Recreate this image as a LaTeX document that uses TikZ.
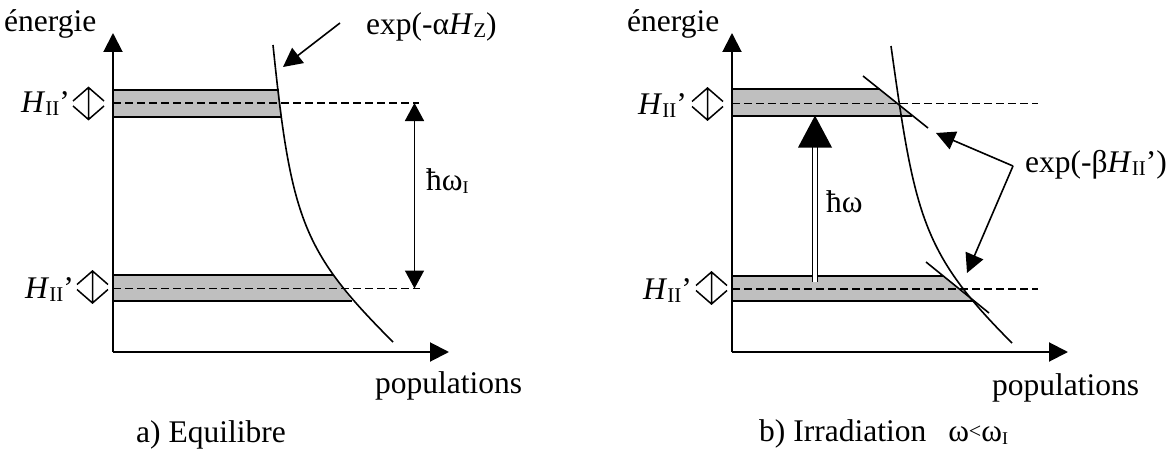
\documentclass[tikz,border=0pt]{standalone}
\usepackage{fontspec}
\setmainfont{Liberation Serif}
\usetikzlibrary{arrows.meta}
\newcommand{\sbs}[1]{\raisebox{-3pt}{\fontsize{21}{24}\selectfont #1}}
\newcommand{\sbsI}[1]{\raisebox{-3pt}{\fontsize{18}{20}\selectfont #1}}
\begin{document}
\begin{tikzpicture}[x=1pt,y=-1pt,
  lbl/.style={inner sep=0pt, anchor=base west, font=\fontsize{31.5}{37}\selectfont},
  axisline/.style={line width=2pt, -{Triangle[length=19pt,width=19pt]}},
  bandfill/.style={fill=black!25, draw=none},
  bandedge/.style={line width=2pt},
  level/.style={line width=1.8pt, dash pattern=on 8pt off 4pt},
  curveline/.style={line width=1.6pt},
  ptr/.style={line width=1.6pt, -{Triangle[length=19pt,width=19pt]}},
  updn/.pic={\draw[line width=1.5pt] (-15.5,-2.5) -- (0,-16) -- (15.5,-2.5)
      (-15.5,2.5) -- (0,16) -- (15.5,2.5) (0,-16) -- (0,16);}
]
\useasboundingbox (0,0) rectangle (1171,452);

%% ---------------- left panel ----------------
\coordinate (LO) at (113,352);
\coordinate (LY) at (113,33);
\coordinate (LX) at (449,352);
% bands
\fill[bandfill] (113,90) -- (279,90) -- (282,116.5) -- (113,116.5) -- cycle;
\fill[bandfill] (113,275) -- (333,275) -- (352,301) -- (113,301) -- cycle;
\draw[level] (113,103) -- (419,103);
\draw[level] (113,288.5) -- (420,288.5);
\draw[bandedge] (113,90) -- (279,90) (113,116.5) -- (282,116.5);
\draw[bandedge] (113,275) -- (333,275) (113,301) -- (352,301);
% curve
\draw[curveline] (273,45) .. controls (291,220) and (303,252) .. (393,342);
% axes
\draw[axisline] (LO) -- (LY);
\draw[axisline] (LO) -- (LX);
% pointer to curve
\coordinate (La1) at (340,23);
\coordinate (La2) at (283,67);
\draw[ptr] (La1) -- (La2);
\node[lbl] (Lexp) at (366,35) {exp(-α\textit{H}\sbs{Z})};
% hbar omega_I
\coordinate (Lw1) at (414.5,103);
\coordinate (Lw2) at (414.5,288.5);
\draw[line width=1.6pt, {Triangle[length=18pt,width=19pt]}-{Triangle[length=18pt,width=19pt]}] (Lw1) -- (Lw2);
\node[lbl] (Lhw) at (426,190) {ħω\sbsI{I}};
% labels
\node[lbl] (Len) at (4,32) {énergie};
\node[lbl] (LH1) at (21,113) {\textit{H}\sbs{II}’};
\node[lbl] (LH2) at (25,298) {\textit{H}\sbs{II}’};
\pic at (88.5,103.5) {updn};
\pic at (92.5,287) {updn};
\node[lbl] (Lpop) at (375,393) {populations};
\node[lbl] (Lcap) at (136,442) {a) Equilibre};

%% ---------------- right panel ----------------
\coordinate (RO) at (732,352);
\coordinate (RY) at (732,33);
\coordinate (RX) at (1068,352);
\fill[bandfill] (732,89.5) -- (879.9,89.5) -- (912.4,115.5) -- (732,115.5) -- cycle;
\fill[bandfill] (732,276) -- (943.3,276) -- (974.2,301) -- (732,301) -- cycle;
\draw[level] (732,103.5) -- (1038,103.5);
\draw[level] (732,289) -- (1038,289);
\draw[bandedge] (732,89.5) -- (879.9,89.5) (732,115.5) -- (912.4,115.5);
\draw[bandedge] (732,276) -- (943.3,276) (732,301) -- (974.2,301);
% tangents
\coordinate (Rt1a) at (863,76);
\coordinate (Rt1b) at (928,128);
\coordinate (Rt2a) at (926,262);
\coordinate (Rt2b) at (989,313);
\draw[curveline] (Rt1a) -- (Rt1b);
\draw[curveline] (Rt2a) -- (Rt2b);
% curve
\draw[curveline] (891,46) .. controls (914.8,216) and (922,253) .. (1012,343);
% axes
\draw[axisline] (RO) -- (RY);
\draw[axisline] (RO) -- (RX);
% hbar omega arrow
\coordinate (Rw1) at (815,282);
\coordinate (Rw2) at (815,115.5);
\draw[double, line width=1.3pt, double distance=3.2pt, shorten >=31pt] (Rw1) -- (Rw2);
\fill ([shift={(-17,32)}]Rw2) -- (Rw2) -- ([shift={(17,32)}]Rw2) -- cycle;
\node[lbl] (Rhw) at (826,212) {ħω};
% pointers to tangents
\coordinate (Rv) at (1013,166);
\coordinate (Rp1) at (936,133);
\coordinate (Rp2) at (967,273);
\draw[ptr] (Rv) -- (Rp1);
\draw[ptr] (Rv) -- (Rp2);
\node[lbl] (Rexp) at (1025,172) {exp(-β\textit{H}\sbs{II}’)};
% labels
\node[lbl] (Ren) at (627,32) {énergie};
\node[lbl] (RH1) at (638,114) {\textit{H}\sbs{II}’};
\node[lbl] (RH2) at (643,299) {\textit{H}\sbs{II}’};
\pic at (707.5,104) {updn};
\pic at (711.5,288) {updn};
\node[lbl] (Rpop) at (992,395) {populations};
\node[lbl] (Rcap) at (759,441) {b) Irradiation\hspace{22pt}ω\raisebox{3pt}{\fontsize{22}{26}\selectfont <}ω\sbsI{I}};
\end{tikzpicture}
\end{document}
